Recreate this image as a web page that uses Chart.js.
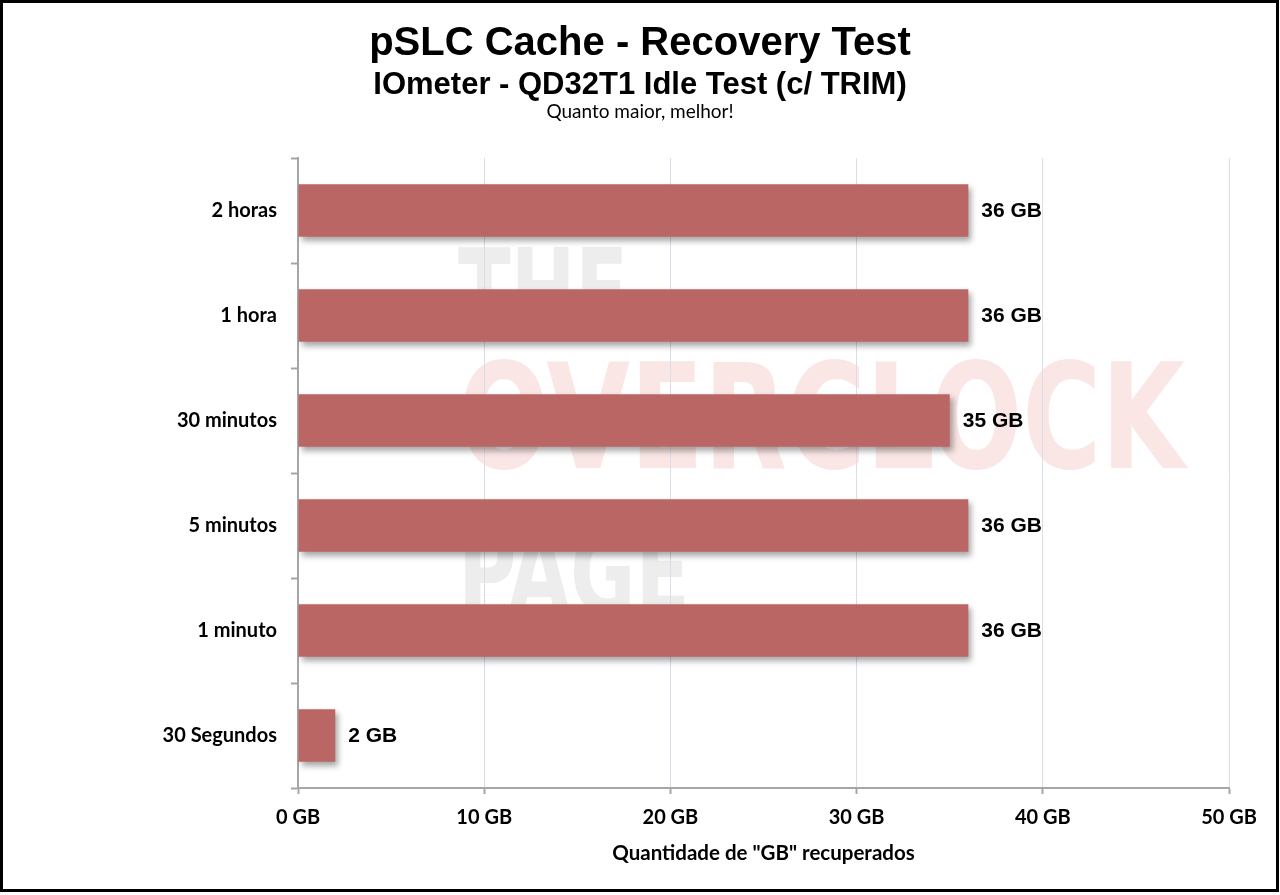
<!DOCTYPE html>
<html>
<head>
<meta charset="utf-8">
<script src="https://cdn.jsdelivr.net/npm/chart.js@4.4.1/dist/chart.umd.min.js"></script>
<style>
  html, body { margin: 0; padding: 0; background: #ffffff; }
  canvas { display: block; }
</style>
</head>
<body>
<canvas id="c" width="1280" height="895"></canvas>
<script>
const categories = ["2 horas", "1 hora", "30 minutos", "5 minutos", "1 minuto", "30 Segundos"];
const recoveredGB = [36, 36, 35, 36, 36, 2];
const xTicks = [0, 10, 20, 30, 40, 50];
const titleText = "pSLC Cache - Recovery Test";
const subtitleText = "IOmeter - QD32T1 Idle Test (c/ TRIM)";
const noteText = "Quanto maior, melhor!";
const xAxisTitle = 'Quantidade de "GB" recuperados';
const unit = " GB";

const BAR_COLOR = "#BA6664";

const backgroundPlugin = {
  id: "bg",
  beforeDraw(chart) {
    const ctx = chart.ctx;
    ctx.save();
    ctx.fillStyle = "#ffffff";
    ctx.fillRect(0, 0, chart.width, chart.height);
    const drawWM = (txt, x0, x1, yBottom, capH, color) => {
      const fs = capH / 0.72;
      ctx.font = "bold " + fs + "px 'DejaVu Sans Condensed', 'DejaVu Sans', sans-serif";
      const w = ctx.measureText(txt).width;
      ctx.save();
      ctx.translate(x0, yBottom);
      ctx.scale((x1 - x0) / w, 1);
      ctx.fillStyle = color;
      ctx.textBaseline = "alphabetic";
      ctx.textAlign = "left";
      ctx.fillText(txt, 0, 0);
      ctx.restore();
    };
    drawWM("THE", 458, 628, 333, 85, "#ededed");
    drawWM("OVERCLOCK", 458, 1185, 468, 105, "#fbe6e6");
    drawWM("PAGE", 458, 690, 612, 82, "#ededed");
    ctx.restore();
  },
  afterDraw(chart) {
    const ctx = chart.ctx;
    ctx.save();
    ctx.fillStyle = "#000000";
    ctx.textAlign = "center";
    ctx.textBaseline = "middle";
    ctx.font = "bold 40px 'Liberation Sans', Arial, sans-serif";
    ctx.fillText(titleText, 640, 44);
    ctx.font = "bold 31px 'Liberation Sans', Arial, sans-serif";
    ctx.fillText(subtitleText, 640, 85);
    ctx.font = "19px Lato, 'Open Sans', sans-serif";
    ctx.fillText(noteText, 640, 112);
    const ca = chart.chartArea;
    ctx.font = "bold 20.5px Lato, 'Open Sans', sans-serif";
    ctx.fillText(xAxisTitle, (ca.left + ca.right) / 2, 853);
    ctx.strokeStyle = "#000000";
    ctx.lineWidth = 3;
    ctx.strokeRect(1.5, 1.5, 1276, 889);
    ctx.restore();
  }
};

const shadowPlugin = {
  id: "barShadow",
  beforeDatasetsDraw(chart) {
    const ctx = chart.ctx;
    ctx.save();
    ctx.shadowColor = "rgba(0,0,0,0.35)";
    ctx.shadowBlur = 6;
    ctx.shadowOffsetX = 3;
    ctx.shadowOffsetY = 4;
  },
  afterDatasetsDraw(chart) {
    const ctx = chart.ctx;
    ctx.restore();
    ctx.save();
    ctx.fillStyle = "#000000";
    ctx.font = "bold 21px 'Liberation Sans', Arial, sans-serif";
    ctx.textAlign = "left";
    ctx.textBaseline = "middle";
    const meta = chart.getDatasetMeta(0);
    meta.data.forEach((bar, i) => {
      const v = chart.data.datasets[0].data[i];
      ctx.fillText(v + unit, bar.x + 13, bar.y + 1);
    });
    ctx.restore();
  }
};

new Chart(document.getElementById("c"), {
  type: "bar",
  data: {
    labels: categories,
    datasets: [{
      data: recoveredGB,
      backgroundColor: BAR_COLOR,
      borderWidth: 0,
      barPercentage: 0.5,
      categoryPercentage: 1.0
    }]
  },
  options: {
    indexAxis: "y",
    responsive: false,
    animation: false,
    devicePixelRatio: 1,
    layout: { padding: { top: 158, left: 0, right: 51, bottom: 0 } },
    plugins: {
      legend: { display: false },
      tooltip: { enabled: false },
      title: { display: false }
    },
    scales: {
      y: {
        type: "category",
        offset: true,
        afterFit(s) { s.width = 298; },
        grid: {
          drawOnChartArea: false,
          offset: true,
          drawTicks: true,
          tickLength: 7,
          tickColor: "#a6a6a6",
          tickWidth: 2
        },
        border: { color: "#a6a6a6", width: 2 },
        ticks: {
          color: "#000000",
          font: { family: "Lato, 'Open Sans', sans-serif", weight: "bold", size: 20 },
          padding: 14
        }
      },
      x: {
        min: 0,
        max: 50,
        afterFit(s) { s.height = 107; },
        afterBuildTicks(s) { s.ticks = xTicks.map(v => ({ value: v })); },
        grid: {
          color: "#d9dee8",
          lineWidth: 1,
          tickLength: 6,
          tickColor: "#a6a6a6",
          tickWidth: 2
        },
        border: { color: "#a6a6a6", width: 2 },
        ticks: {
          color: "#000000",
          font: { family: "Lato, 'Open Sans', sans-serif", weight: "bold", size: 20 },
          padding: 12,
          callback: v => v + unit
        }
      }
    }
  },
  plugins: [backgroundPlugin, shadowPlugin]
});
</script>
</body>
</html>
